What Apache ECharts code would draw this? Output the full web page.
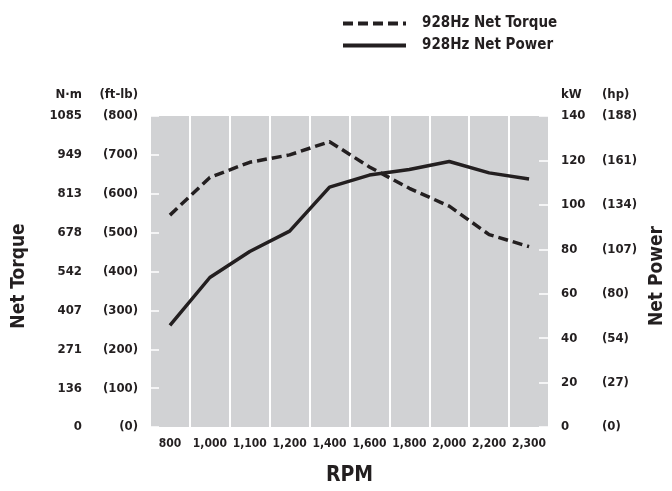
<!DOCTYPE html>
<html>
<head>
<meta charset="utf-8">
<script src="https://cdn.jsdelivr.net/npm/echarts@6/dist/echarts.min.js"></script>
<style>
html,body{margin:0;padding:0;background:#fff;}
#c{width:672px;height:491px;}
</style>
</head>
<body>
<div id="c"></div>
<script>
var rpm = ['800','1,000','1,100','1,200','1,400','1,600','1,800','2,000','2,200','2,300'];
var torqueFtLb = [545, 642, 681, 700, 734, 669, 614, 568, 495, 464];
var powerKw = [45.8, 67.3, 79, 88.2, 108, 113.4, 115.9, 119.5, 114.4, 111.6];
var nmLabels = ['0','136','271','407','542','678','813','949','1085'];
var ftlbLabels = ['(0)','(100)','(200)','(300)','(400)','(500)','(600)','(700)','(800)'];
var kwLabels = ['0','20','40','60','80','100','120','140'];
var hpLabels = ['(0)','(27)','(54)','(80)','(107)','(134)','(161)','(188)'];

var FONT = '"Liberation Sans Narrow","DejaVu Sans Condensed","Arial Narrow",sans-serif';
var INK = '#231f20';
var LBL = 13;

var chart = echarts.init(document.getElementById('c'), null, {renderer:'canvas'});
chart.setOption({
  animation: false,
  backgroundColor: '#ffffff',
  textStyle: {fontFamily: FONT, fontWeight: 'bold', color: INK},
  legend: {
    orient: 'vertical', left: 336, top: 11,
    itemWidth: 63, itemHeight: 6, itemGap: 7,
    data: ['928Hz Net Torque','928Hz Net Power'],
    itemStyle: {opacity: 0},
    lineStyle: {width: 4},
    textStyle: {fontFamily: FONT, fontWeight: 'bold', fontSize: 15, color: INK, padding: [0,0,0,11]}
  },
  grid: {left: 150, right: 123, top: 116, bottom: 56, show: true, backgroundColor: '#d1d2d4', borderWidth: 0},
  xAxis: {
    type: 'category', data: rpm, boundaryGap: true,
    axisLine: {show: false}, axisTick: {show: false},
    splitLine: {show: true, interval: 0, lineStyle: {color: '#ffffff', width: 2}},
    axisLabel: {interval: 0, fontFamily: FONT, fontWeight: 'bold', fontSize: 12, color: INK, margin: 11},
    name: 'RPM', nameLocation: 'middle', nameGap: 38,
    nameTextStyle: {fontFamily: FONT, fontWeight: 'bold', fontSize: 21, color: INK}
  },
  yAxis: [{
    type: 'value', min: 0, max: 800, interval: 100, position: 'left',
    axisLine: {show: false}, splitLine: {show: false},
    axisTick: {show: true, inside: true, length: 9, lineStyle: {color: '#ffffff', width: 1.5}},
    axisLabel: {
      margin: 12,
      formatter: function (v) { var i = Math.round(v / 100); return '{n|' + nmLabels[i] + '}{f|' + ftlbLabels[i] + '}'; },
      rich: {
        n: {width: 40, align: 'right', fontFamily: FONT, fontWeight: 'bold', fontSize: LBL, color: INK},
        f: {width: 56, align: 'right', fontFamily: FONT, fontWeight: 'bold', fontSize: LBL, color: INK}
      }
    }
  }, {
    type: 'value', min: 0, max: 140, interval: 20, position: 'right',
    axisLine: {show: false}, splitLine: {show: false},
    axisTick: {show: true, inside: true, length: 10, lineStyle: {color: '#ffffff', width: 1.5}},
    axisLabel: {
      margin: 12,
      formatter: function (v) { var i = Math.round(v / 20); return '{k|' + kwLabels[i] + '}{h|' + hpLabels[i] + '}'; },
      rich: {
        k: {width: 41, align: 'left', fontFamily: FONT, fontWeight: 'bold', fontSize: LBL, color: INK},
        h: {align: 'left', fontFamily: FONT, fontWeight: 'bold', fontSize: LBL, color: INK}
      }
    }
  }],
  graphic: [
    {type: 'text', style: {text: 'N·m', x: 82, y: 95, align: 'right', verticalAlign: 'middle', font: 'bold 13px ' + FONT, fill: INK}},
    {type: 'text', style: {text: '(ft-lb)', x: 138, y: 95, align: 'right', verticalAlign: 'middle', font: 'bold 13px ' + FONT, fill: INK}},
    {type: 'text', style: {text: 'kW', x: 561, y: 95, align: 'left', verticalAlign: 'middle', font: 'bold 13px ' + FONT, fill: INK}},
    {type: 'text', style: {text: '(hp)', x: 602, y: 95, align: 'left', verticalAlign: 'middle', font: 'bold 13px ' + FONT, fill: INK}},
    {type: 'text', x: 19, y: 276, rotation: Math.PI / 2, style: {text: 'Net Torque', x: 0, y: 0, align: 'center', verticalAlign: 'middle', font: 'bold 19px ' + FONT, fill: INK}},
    {type: 'text', x: 657, y: 276, rotation: Math.PI / 2, style: {text: 'Net Power', x: 0, y: 0, align: 'center', verticalAlign: 'middle', font: 'bold 19px ' + FONT, fill: INK}}
  ],
  series: [{
    name: '928Hz Net Torque', type: 'line', yAxisIndex: 0, data: torqueFtLb,
    symbol: 'none', lineStyle: {color: INK, width: 3.5, type: [10, 5]}, itemStyle: {color: INK}
  }, {
    name: '928Hz Net Power', type: 'line', yAxisIndex: 1, data: powerKw,
    symbol: 'none', lineStyle: {color: INK, width: 3.5, type: 'solid'}, itemStyle: {color: INK}
  }]
});
</script>
</body>
</html>
